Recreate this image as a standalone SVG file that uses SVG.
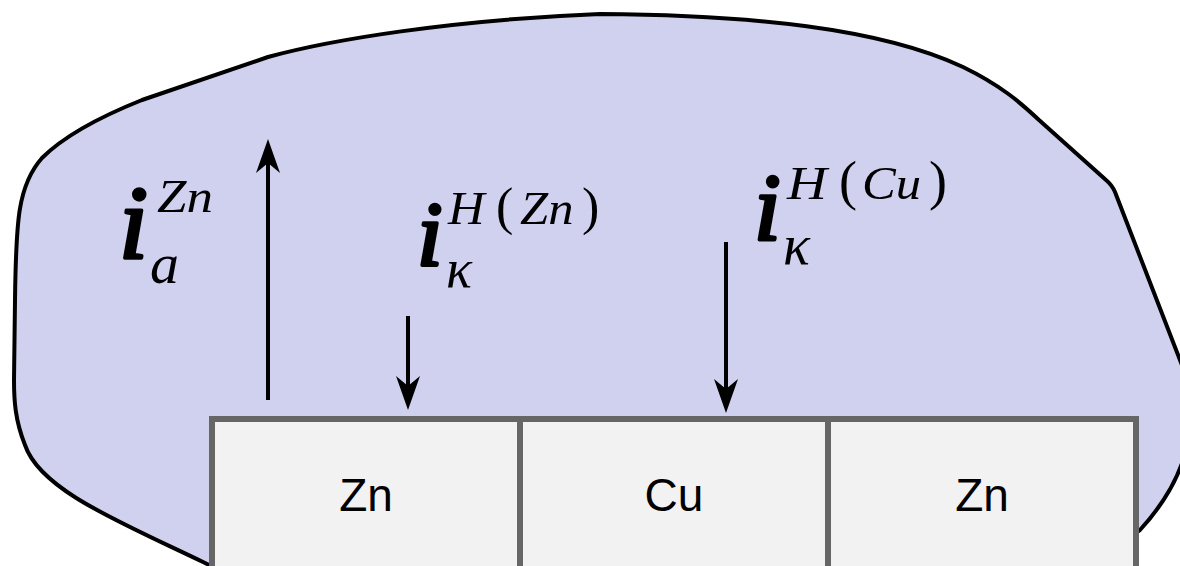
<svg xmlns="http://www.w3.org/2000/svg" width="1180" height="566" viewBox="0 0 1180 566">
<style>
.blob{fill:#d0d0ef;stroke:#000;stroke-width:4;stroke-linejoin:round}
.box{fill:#f2f2f2;stroke:#666;stroke-width:6}
.boxt{font-family:"Liberation Sans",Arial,sans-serif;font-size:46px;fill:#000;text-anchor:middle}
.conn{stroke:#000;stroke-width:4;fill:none}
.m{font-family:"Liberation Serif","Times New Roman",serif;fill:#000}
.bi{font-style:italic;stroke:#000;stroke-width:3.5;stroke-linejoin:round}
.it{font-style:italic}
</style>
<defs>
<marker id="ah" markerUnits="userSpaceOnUse" markerWidth="40" markerHeight="30" viewBox="-36 -15 40 30" refX="-24" refY="0" orient="auto">
<path d="M0,0 L-34,-12 L-24,0 L-34,12 Z" fill="#000"/>
</marker>
</defs>
<g id="electrolyte">
<path class="blob" d="M215,568 L203,562 C120,522 40,490 25,445 C15,420 14,400 14,380 L15,300 C16,220 18,185 42,158 C62,138 92,120 142,100 L268,57 C330,40 450,20 600,14 C750,15 880,28 963,67 C1000,85 1020,102 1039,120 L1106,180 Q1112,185 1115,192 L1180,360 C1200,410 1195,470 1140,530 L1125,540"/>
</g>
<g id="labels">
<g id="label-ia-zn">
<text class="m bi" x="119" y="258" font-size="104">i</text>
<text class="m it" transform="translate(157,212) scale(1.15,1)" font-size="46">Zn</text>
<text class="m it" x="150" y="283" font-size="58">a</text>
</g>
<g id="label-ik-h-zn">
<text class="m bi" x="417" y="265" font-size="92">i</text>
<text class="m it" transform="translate(448,224) scale(1.1,1)" font-size="46">H</text>
<text class="m" transform="translate(496,224)" font-size="52">(</text>
<text class="m it" transform="translate(520,224) scale(1.1,1)" font-size="46">Zn</text>
<text class="m" transform="translate(582,224)" font-size="52">)</text>
<text class="m it" x="446" y="287" font-size="54">κ</text>
</g>
<g id="label-ik-h-cu">
<text class="m bi" x="754" y="240" font-size="96">i</text>
<text class="m it" transform="translate(787,199) scale(1.2,1)" font-size="46">H</text>
<text class="m" transform="translate(839,199)" font-size="54">(</text>
<text class="m it" transform="translate(862,199) scale(1.1,1)" font-size="46">Cu</text>
<text class="m" transform="translate(929,199)" font-size="54">)</text>
<text class="m it" x="783" y="264" font-size="56">κ</text>
</g>
</g>
<g id="connectors">
<path class="conn" d="M268,400 L268,163" marker-end="url(#ah)"/>
<path class="conn" d="M408,316 L408,386" marker-end="url(#ah)"/>
<path class="conn" d="M726,242 L726,389" marker-end="url(#ah)"/>
</g>
<g id="node-zn-left">
<rect class="box" x="212" y="419" width="308" height="152"/>
<text class="boxt" x="366" y="511">Zn</text>
</g>
<g id="node-cu">
<rect class="box" x="520" y="419" width="308" height="152"/>
<text class="boxt" x="674" y="511">Cu</text>
</g>
<g id="node-zn-right">
<rect class="box" x="828" y="419" width="308" height="152"/>
<text class="boxt" x="982" y="511">Zn</text>
</g>
</svg>
